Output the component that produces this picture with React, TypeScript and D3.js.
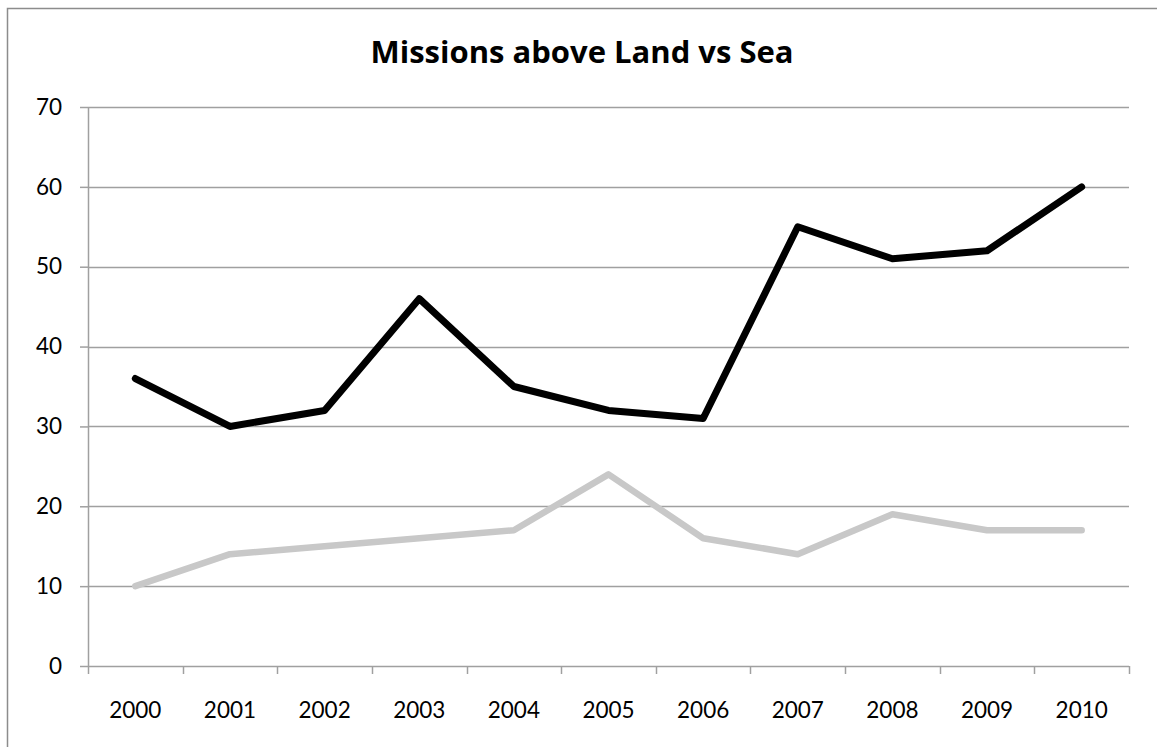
import { useEffect, useRef } from "react";
import { select, scaleBand, scaleLinear, line, axisBottom, axisLeft } from "d3";

const WIDTH = 1157;
const HEIGHT = 747;
const PLOT = { left: 88, right: 1129, top: 107, bottom: 666 };

const TITLE = "Missions above Land vs Sea";
const YEARS = ["2000", "2001", "2002", "2003", "2004", "2005", "2006", "2007", "2008", "2009", "2010"];
const LAND = [36, 30, 32, 46, 35, 32, 31, 55, 51, 52, 60];
const SEA = [10, 14, 15, 16, 17, 24, 16, 14, 19, 17, 17];
const Y_TICKS = [0, 10, 20, 30, 40, 50, 60, 70];

const GRID = "#a0a0a0";
const FONT = "Lato, 'Open Sans', sans-serif";

export default function App() {
  const svgRef = useRef<SVGSVGElement>(null);

  useEffect(() => {
    const svg = select(svgRef.current);
    svg.selectAll("*").remove();

    // chart border: only the left and top edges fall inside the frame
    svg
      .append("path")
      .attr("d", `M7.5,${HEIGHT}V8.5H${WIDTH}`)
      .attr("fill", "none")
      .attr("stroke", "#8c8c8c")
      .attr("stroke-width", 1.5);

    const x = scaleBand<string>().domain(YEARS).range([PLOT.left, PLOT.right]).padding(0);
    const y = scaleLinear().domain([0, 70]).range([PLOT.bottom, PLOT.top]);

    // title
    svg
      .append("text")
      .attr("x", 582)
      .attr("y", 63)
      .attr("text-anchor", "middle")
      .attr("font-family", "'Open Sans', Lato, sans-serif")
      .attr("font-weight", 700)
      .attr("font-size", "31px")
      .attr("fill", "#000")
      .text(TITLE);

    // gridlines
    svg
      .append("g")
      .selectAll("line")
      .data(Y_TICKS.slice(1))
      .join("line")
      .attr("x1", PLOT.left)
      .attr("x2", PLOT.right)
      .attr("y1", (d) => Math.round(y(d)) + 0.5)
      .attr("y2", (d) => Math.round(y(d)) + 0.5)
      .attr("stroke", GRID)
      .attr("stroke-width", 1.5);

    // y axis
    const yAxis = svg
      .append("g")
      .attr("transform", `translate(${PLOT.left},0)`)
      .call(axisLeft(y).tickValues(Y_TICKS).tickSize(8).tickPadding(18).tickSizeOuter(0));
    yAxis.select(".domain").attr("stroke", GRID).attr("stroke-width", 1.5);
    yAxis.selectAll(".tick line").attr("stroke", GRID).attr("stroke-width", 1.5);
    yAxis
      .selectAll(".tick text")
      .attr("font-family", FONT)
      .attr("font-size", "22.5px")
      .attr("fill", "#000");

    // x axis: labels centred, ticks between categories
    const xAxis = svg
      .append("g")
      .attr("transform", `translate(0,${PLOT.bottom})`)
      .call(axisBottom(x).tickSize(0).tickPadding(0).tickSizeOuter(0));
    xAxis.select(".domain").remove();
    xAxis.selectAll(".tick line").remove();
    xAxis
      .selectAll(".tick text")
      .attr("y", 52)
      .attr("dy", 0)
      .attr("font-family", FONT)
      .attr("font-size", "22.5px")
      .attr("fill", "#000");

    svg
      .append("line")
      .attr("x1", PLOT.left)
      .attr("x2", PLOT.right)
      .attr("y1", PLOT.bottom + 0.5)
      .attr("y2", PLOT.bottom + 0.5)
      .attr("stroke", GRID)
      .attr("stroke-width", 1.5);

    const boundaries = YEARS.map((d) => x(d) ?? 0).concat([PLOT.right]);
    svg
      .append("g")
      .selectAll("line")
      .data(boundaries)
      .join("line")
      .attr("x1", (d) => Math.round(d) + 0.5)
      .attr("x2", (d) => Math.round(d) + 0.5)
      .attr("y1", PLOT.bottom)
      .attr("y2", PLOT.bottom + 8)
      .attr("stroke", GRID)
      .attr("stroke-width", 1.5);

    const cx = (i: number) => (x(YEARS[i]) ?? 0) + x.bandwidth() / 2;
    const path = line<number>()
      .x((_, i) => cx(i))
      .y((d) => y(d));

    svg
      .append("path")
      .attr("d", path(SEA))
      .attr("fill", "none")
      .attr("stroke", "#c8c8c8")
      .attr("stroke-width", 6.5)
      .attr("stroke-linejoin", "round")
      .attr("stroke-linecap", "round");

    svg
      .append("path")
      .attr("d", path(LAND))
      .attr("fill", "none")
      .attr("stroke", "#000000")
      .attr("stroke-width", 7)
      .attr("stroke-linejoin", "round")
      .attr("stroke-linecap", "round");
  }, []);

  return (
    <svg
      ref={svgRef}
      width={WIDTH}
      height={HEIGHT}
      style={{ position: "absolute", left: 0, top: 0, background: "#fff" }}
    />
  );
}
